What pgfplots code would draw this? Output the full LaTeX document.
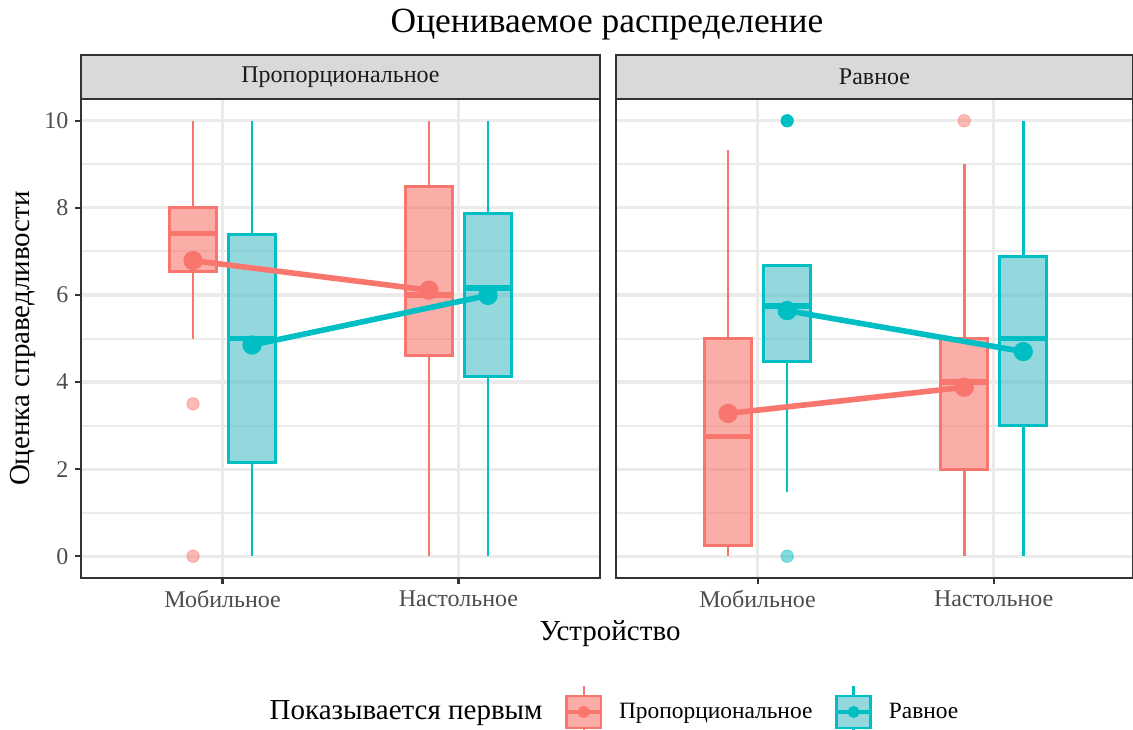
\documentclass[border=0pt]{standalone}
\usepackage{fontspec}
\setmainfont{Liberation Serif}
\usepackage{pgfplots}
\pgfplotsset{compat=1.18}
\usepgfplotslibrary{statistics}

\definecolor{pinkc}{HTML}{F8766D}
\definecolor{cyanc}{HTML}{00BFC4}
\definecolor{cyanfill}{HTML}{4BBEC6}
\definecolor{gridc}{HTML}{EBEBEB}
\definecolor{stripc}{HTML}{D9D9D9}
\definecolor{borderc}{HTML}{333333}
\definecolor{tickc}{HTML}{4D4D4D}
\definecolor{stript}{HTML}{1A1A1A}

\pgfplotsset{
  panel/.style={
    scale only axis, height=239.5pt,
    xmin=0.4, ymin=-0.5, ymax=10.5,
    axis line style={borderc, line width=1.1pt},
    xtick={1,2}, xticklabels={Мобильное,Настольное},
    ytick={0,2,...,10}, minor ytick={1,3,...,9},
    xtick pos=bottom, ytick pos=left,
    xmajorgrids, ymajorgrids, yminorgrids,
    major grid style={gridc, line width=1.6pt},
    minor grid style={gridc, line width=1pt},
    tick align=outside, major tick length=2.75pt, minor tick length=0pt,
    tick style={borderc, line width=1.1pt},
    ticklabel style={font=\fontsize{12}{14}\selectfont, text=tickc},
    /pgf/number format/assume math mode=true,
    clip=false,
  },
  pbox/.style={
    draw=pinkc, line width=1.3pt,
    boxplot/draw direction=y,
    boxplot/box extend=0.2, boxplot/whisker extend=0,
    boxplot/every box/.style={draw=pinkc, line width=1.5pt, fill=pinkc, fill opacity=0.6},
    boxplot/every whisker/.style={draw=pinkc, line width=1.3pt},
    boxplot/every median/.style={draw=pinkc, line width=2.7pt},
  },
  cbox/.style={
    draw=cyanc, line width=1.3pt,
    boxplot/draw direction=y,
    boxplot/box extend=0.2, boxplot/whisker extend=0,
    boxplot/every box/.style={draw=cyanc, line width=1.5pt, fill=cyanfill, fill opacity=0.6},
    boxplot/every whisker/.style={draw=cyanc, line width=1.3pt},
    boxplot/every median/.style={draw=cyanc, line width=2.7pt},
  },
  meanline/.style={line width=2.8pt, mark=*, mark size=3.4pt, mark options={solid}},
  outl/.style={only marks, mark=*, mark size=3.1pt},
}

\begin{document}
\begin{tikzpicture}
% ---- left panel: Пропорциональное
\begin{axis}[panel, name=left, at={(0,0)}, anchor=south west,
  width=259.5pt, xmax=2.6,
  legend style={at={(1.0154,-0.2797)}, anchor=center, draw=none, fill=none,
    legend columns=3, font=\fontsize{11.7}{14}\selectfont,
    /tikz/every odd column/.append style={column sep=6pt},
    /tikz/every even column/.append style={column sep=9pt}},
  ]
\addplot[pbox, forget plot, boxplot prepared={draw position=0.875,
  lower whisker=5, lower quartile=6.53, median=7.41, upper quartile=8.0, upper whisker=10}] coordinates {};
\addplot[cbox, forget plot, boxplot prepared={draw position=1.125,
  lower whisker=0, lower quartile=2.16, median=5.0, upper quartile=7.38, upper whisker=10}] coordinates {};
\addplot[pbox, forget plot, boxplot prepared={draw position=1.875,
  lower whisker=0, lower quartile=4.6, median=6.0, upper quartile=8.5, upper whisker=10}] coordinates {};
\addplot[cbox, forget plot, boxplot prepared={draw position=2.125,
  lower whisker=0, lower quartile=4.13, median=6.16, upper quartile=7.87, upper whisker=10}] coordinates {};
\addplot[outl, forget plot, color=pinkc, opacity=0.5] coordinates {(0.875,3.5) (0.875,0)};
\addplot[meanline, pinkc, forget plot] coordinates {(0.875,6.79) (1.875,6.11)};
\addplot[meanline, cyanc, forget plot] coordinates {(1.125,4.85) (2.125,5.99)};
% legend
\addlegendimage{empty legend}
\addlegendentry{\fontsize{14.5}{16}\selectfont Показывается первым}
\addlegendimage{legend image code/.code={
  \draw[pinkc, line width=1.2pt] (0.3cm,-0.45cm) -- (0.3cm,0.45cm);
  \filldraw[draw=pinkc, fill=white, line width=1.3pt] (0cm,-0.28cm) rectangle (0.6cm,0.28cm);
  \filldraw[draw=pinkc, fill=pinkc, fill opacity=0.6, line width=1.3pt] (0cm,-0.28cm) rectangle (0.6cm,0.28cm);
  \draw[pinkc, line width=2.2pt] (0cm,0cm) -- (0.6cm,0cm);
  \fill[pinkc] (0.3cm,0cm) circle (2.8pt);}}
\addlegendentry{Пропорциональное}
\addlegendimage{legend image code/.code={
  \draw[cyanc, line width=1.2pt] (0.3cm,-0.45cm) -- (0.3cm,0.45cm);
  \filldraw[draw=cyanc, fill=white, line width=1.3pt] (0cm,-0.28cm) rectangle (0.6cm,0.28cm);
  \filldraw[draw=cyanc, fill=cyanfill, fill opacity=0.6, line width=1.3pt] (0cm,-0.28cm) rectangle (0.6cm,0.28cm);
  \draw[cyanc, line width=2.2pt] (0cm,0cm) -- (0.6cm,0cm);
  \fill[cyanc] (0.3cm,0cm) circle (2.8pt);}}
\addlegendentry{Равное}
\end{axis}

% ---- right panel: Равное
\begin{axis}[panel, name=right, at={(267.5pt,0)}, anchor=south west,
  width=258.5pt, xmax=2.59,
  yticklabels={}, y tick style={draw=none},
  ]
\addplot[pbox, boxplot prepared={draw position=0.875,
  lower whisker=0, lower quartile=0.25, median=2.75, upper quartile=5.0, upper whisker=9.32}] coordinates {};
\addplot[cbox, boxplot prepared={draw position=1.125,
  lower whisker=1.48, lower quartile=4.48, median=5.75, upper quartile=6.67, upper whisker=6.67}] coordinates {};
\addplot[pbox, boxplot prepared={draw position=1.875,
  lower whisker=0, lower quartile=2.0, median=4.0, upper quartile=5.0, upper whisker=9.0}] coordinates {};
\addplot[cbox, boxplot prepared={draw position=2.125,
  lower whisker=0, lower quartile=3.0, median=5.0, upper quartile=6.88, upper whisker=10}] coordinates {};
\addplot[outl, color=pinkc, opacity=0.5] coordinates {(1.875,10)};
\addplot[outl, color=cyanc, opacity=0.5] coordinates {(1.125,0)};
\addplot[outl, color=cyanc] coordinates {(1.125,10)};
\addplot[meanline, pinkc] coordinates {(0.875,3.28) (1.875,3.88)};
\addplot[meanline, cyanc] coordinates {(1.125,5.64) (2.125,4.7)};
\end{axis}

% strips
\filldraw[fill=stripc, draw=borderc, line width=1.1pt] (left.north west) rectangle ([yshift=22pt]left.north east);
\node[text=stript, font=\fontsize{12}{14}\selectfont] at ([yshift=11pt]left.north) {Пропорциональное};
\filldraw[fill=stripc, draw=borderc, line width=1.1pt] (right.north west) rectangle ([yshift=22pt]right.north east);
\node[text=stript, font=\fontsize{12}{14}\selectfont] at ([yshift=11pt]right.north) {Равное};

% titles
\node[anchor=base, font=\fontsize{17.7}{20}\selectfont] at (263pt,272.5pt) {Оцениваемое распределение};
\node[anchor=base, font=\fontsize{14.5}{17}\selectfont] at (264.5pt,-31pt) {Устройство};
\node[rotate=90, font=\fontsize{14.5}{17}\selectfont] at (-29pt,119.75pt) {Оценка справедливости};

\pgfresetboundingbox
\path[use as bounding box] (-40.5pt,-75.5pt) rectangle (526pt,289pt);
\end{tikzpicture}
\end{document}
